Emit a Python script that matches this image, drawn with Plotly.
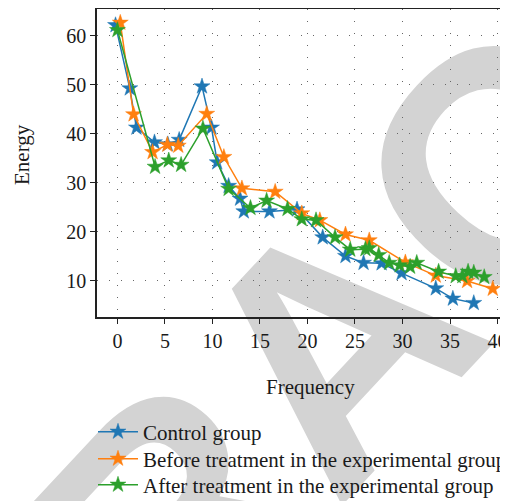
import plotly.graph_objects as go

# ---- data ----
control_x = [-0.2, 1.3, 2.0, 3.9, 5.3, 6.5, 8.9, 9.9, 10.5, 11.7, 12.9, 13.3, 16.0, 18.9,
             21.6, 24.0, 25.9, 27.8, 29.9, 33.5, 35.3, 37.5]
control_y = [62.2, 49.3, 41.3, 38.3, 37.9, 38.8, 49.7, 41.3, 34.2, 29.4, 26.8, 24.2, 24.2, 24.6,
             18.9, 15.1, 13.7, 13.6, 11.6, 8.5, 6.4, 5.5]

before_x = [0.3, 1.7, 3.7, 5.25, 6.4, 9.4, 11.2, 13.1, 16.6, 19.4, 21.3, 24.0, 26.5, 30.3,
            33.5, 36.8, 39.5]
before_y = [62.7, 44.0, 36.3, 37.8, 37.6, 44.1, 35.3, 28.9, 28.2, 23.8, 22.4, 19.5, 18.3, 13.8,
            11.1, 10.0, 8.4]

after_x = [0.0, 3.96, 5.4, 6.7, 9.0, 11.7, 14.0, 15.7, 17.9, 19.4, 20.9, 22.9, 24.5, 26.1, 26.5,
           27.5, 28.6, 29.7, 30.8, 31.5, 33.8, 35.6, 36.3, 36.9, 37.5, 38.6]
after_y = [61.2, 33.3, 34.6, 33.7, 41.1, 28.8, 24.9, 26.4, 24.7, 22.6, 22.4, 18.9, 16.4, 16.5, 16.7,
           15.3, 13.7, 13.2, 12.9, 13.7, 11.9, 11.0, 11.0, 11.9, 11.7, 10.8]

series_names = ["Control group", "Before treatment in the experimental group",
                "After treatment in the experimental group"]
series_colors = ["#1f77b4", "#ff7f0e", "#2ca02c"]

x_ticks = [0, 5, 10, 15, 20, 25, 30, 35, 40]
y_ticks = [10, 20, 30, 40, 50, 60]

FONT = "Liberation Serif"
TXT = "#1a1a1a"

# The page body has an 8px margin, so the figure is laid out in figure pixels
# = window pixels - 8.  Helpers below take window pixel positions.
OFF = 8
W, H = 516, 509
ml, mr, mt, mb = 89, 1, 1, 200
pw, ph = W - ml - mr, H - mt - mb


def px(xw):
    return (xw - OFF - ml) / pw


def py(yw):
    return (H - mb - (yw - OFF)) / ph


fig = go.Figure()
legend_ids = ["legend", "legend2", "legend3"]
for xs, ys, name, col, lid in zip([control_x, before_x, after_x], [control_y, before_y, after_y],
                                  series_names, series_colors, legend_ids):
    fig.add_trace(go.Scatter(
        x=xs, y=ys, name=name, mode="lines+markers",
        line=dict(color=col, width=1.5),
        marker=dict(symbol="star", size=12, color=col, line=dict(color=col, width=0.5)),
        legend=lid,
    ))

axis_common = dict(
    showline=True, linecolor="#222", linewidth=1.5,
    ticks="outside", ticklen=5, tickwidth=1.3, tickcolor="#222",
    showgrid=True, gridcolor="#666", gridwidth=1, griddash="1px,11px",
    zeroline=False, automargin=False,
    tickfont=dict(family=FONT, size=20, color=TXT),
)

legend_rows = [432, 459, 485]
legend_common = dict(
    xanchor="left", yanchor="middle", bgcolor="rgba(0,0,0,0)",
    font=dict(family=FONT, size=21, color=TXT), itemwidth=40,
)

WM_X, WM_Y = 311, 324
fig.update_layout(
    width=W, height=H,
    margin=dict(l=ml, r=mr, t=mt, b=mb, pad=0, autoexpand=False),
    paper_bgcolor="white",
    plot_bgcolor="rgba(0,0,0,0)",
    xaxis=dict(range=[-2.15, 42.68], tickvals=x_ticks, mirror=True, **axis_common),
    yaxis=dict(range=[2.65, 65.5], tickvals=y_ticks, **axis_common),
    showlegend=True,
    legend=dict(x=px(93), y=py(legend_rows[0]), **legend_common),
    legend2=dict(x=px(93), y=py(legend_rows[1]), **legend_common),
    legend3=dict(x=px(93), y=py(legend_rows[2]), **legend_common),
    annotations=[
        dict(text="Frequency", x=px(310), y=py(387), xref="paper", yref="paper",
             showarrow=False, xanchor="center", yanchor="middle",
             font=dict(family=FONT, size=21, color=TXT)),
        dict(text="Energy", x=px(22), y=py(155), xref="paper", yref="paper",
             showarrow=False, xanchor="center", yanchor="middle", textangle=-90,
             font=dict(family=FONT, size=21, color=TXT)),
    ],
    shapes=[
        dict(type="rect", xref="paper", yref="paper",
             x0=px(WM_X - 10), x1=px(WM_X + 10), y0=py(WM_Y + 10), y1=py(WM_Y - 10),
             line=dict(width=0), fillcolor="rgba(0,0,0,0)", layer="below",
             label=dict(text="RETRACTED", textangle=-47, textposition="middle center",
                        font=dict(family="Liberation Sans", size=332, color="#d3d3d3",
                                  weight="bold"))),
    ],
)

fig.write_html("out.html")
